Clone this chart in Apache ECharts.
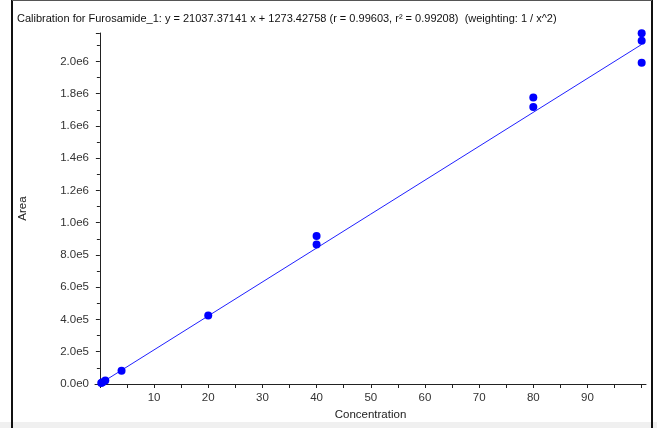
<!DOCTYPE html>
<html><head><meta charset="utf-8">
<style>html,body{margin:0;padding:0;background:#fff;}#c{width:657px;height:428px;}</style>
<script src="https://cdn.jsdelivr.net/npm/echarts@6/dist/echarts.min.js"></script>
</head><body><div id="c"></div>
<script>
const concentrations = [0.25, 0.5, 1, 4, 20, 40, 40, 80, 80, 100, 100, 100];
const areas = [6000, 11000, 21000, 82000, 424000, 917000, 865000, 1776000, 1718000, 2174000, 2128000, 1991000];
const slope = 21037.37141;
const intercept = 1273.42758;
const fitRange = [0, 100];
const xLabels = [10, 20, 30, 40, 50, 60, 70, 80, 90];
const xTicks = [0,5,10,15,20,25,30,35,40,45,50,55,60,65,70,75,80,85,90,95,100];
const yLabels = [0, 200000, 400000, 600000, 800000, 1000000, 1200000, 1400000, 1600000, 1800000, 2000000];
const titleText = 'Calibration for Furosamide_1: y = 21037.37141 x + 1273.42758 (r = 0.99603, r\u00B2 = 0.99208)  (weighting: 1 / x^2)';

const chart = echarts.init(document.getElementById('c'), null, {renderer: 'canvas'});
const font = 'Liberation Sans';
function fmtY(v) {
  if (v === 0) return '0.0e0';
  const e = Math.floor(Math.log10(v) + 1e-9);
  const m = v / Math.pow(10, e);
  return m.toFixed(1) + 'e' + e;
}
chart.setOption({
  animation: false,
  backgroundColor: '#fff',
  textStyle: {fontFamily: font},
  title: {text: titleText, left: 12, top: 8, textStyle: {fontSize: 11, fontWeight: 'normal', color: '#111', fontFamily: font}},
  graphic: [
    {type: 'rect', shape: {x: 0, y: 422, width: 657, height: 6}, style: {fill: '#f0f0f0'}, z: -1},
    {type: 'line', shape: {x1: 12, y1: 0, x2: 12, y2: 428}, style: {stroke: '#111', lineWidth: 2}},
    {type: 'line', shape: {x1: 652, y1: 0, x2: 652, y2: 428}, style: {stroke: '#111', lineWidth: 2}},
    {type: 'line', shape: {x1: 12, y1: 0.5, x2: 652, y2: 0.5}, style: {stroke: '#555', lineWidth: 1}}
  ],
  grid: {left: 95, right: 11, top: 33, bottom: 44},
  xAxis: {
    type: 'value', min: -0.9, max: 100.8,
    name: 'Concentration', nameLocation: 'middle', nameGap: 25,
    nameTextStyle: {fontSize: 11.5, color: '#222'},
    axisLine: {onZero: false, lineStyle: {color: '#222', width: 1}},
    axisTick: {show: true, customValues: xTicks, length: 4, lineStyle: {color: '#222'}},
    axisLabel: {customValues: xLabels, fontSize: 11.5, color: '#333', margin: 8},
    splitLine: {show: false}
  },
  yAxis: {
    type: 'value', min: 0, max: 2176000, interval: 200000,
    name: 'Area', nameLocation: 'middle', nameGap: 66, nameRotate: 90,
    nameTextStyle: {fontSize: 11.5, color: '#222'},
    axisLine: {show: true, lineStyle: {color: '#222', width: 1}},
    axisTick: {show: true, length: 4, lineStyle: {color: '#222'}},
    minorTick: {show: true, splitNumber: 2, length: 3, lineStyle: {color: '#222'}},
    axisLabel: {customValues: yLabels, formatter: fmtY, fontSize: 11.5, color: '#333', margin: 6},
    splitLine: {show: false}
  },
  series: [
    {type: 'line', data: fitRange.map(x => [x, slope * x + intercept]), symbol: 'none',
     lineStyle: {color: '#2020ff', width: 1}, z: 2},
    {type: 'scatter', data: concentrations.map((c, i) => [c, areas[i]]), symbolSize: 8,
     itemStyle: {color: '#0000ff', opacity: 1}, z: 3}
  ]
});
</script></body></html>
